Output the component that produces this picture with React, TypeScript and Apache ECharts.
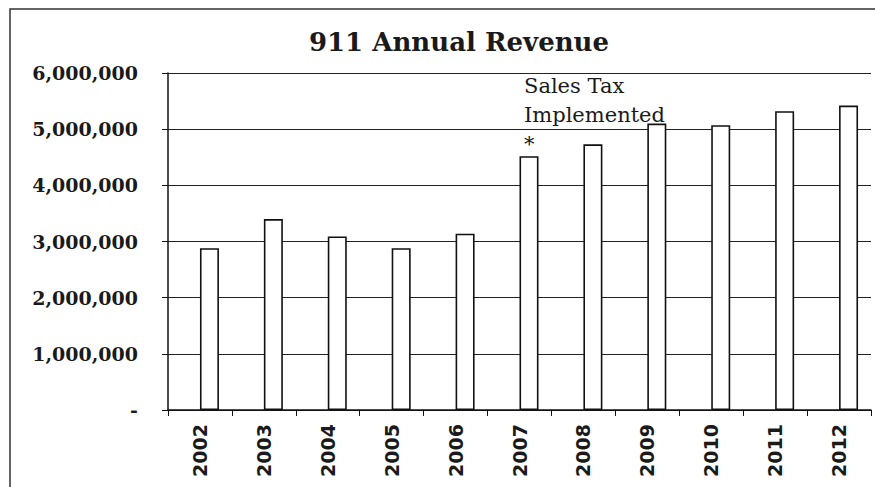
import React, { useEffect, useRef } from "react";
import * as echarts from "echarts";

const years = ["2002", "2003", "2004", "2005", "2006", "2007", "2008", "2009", "2010", "2011", "2012"];
const revenue = [2880000, 3400000, 3090000, 2880000, 3140000, 4520000, 4730000, 5100000, 5070000, 5320000, 5420000];
const spacer = years.map(() => null);
const annotation = "Sales Tax\nImplemented\n*";

export default function App() {
  const ref = useRef<HTMLDivElement>(null);
  useEffect(() => {
    if (!ref.current) return;
    const chart = echarts.init(ref.current, null, { renderer: "svg" });
    chart.setOption({
      animation: false,
      backgroundColor: "#ffffff",
      title: {
        text: "911 Annual Revenue",
        left: 454,
        textAlign: "center",
        top: 24,
        textStyle: { fontFamily: "DejaVu Serif", fontWeight: "bold", fontSize: 26, color: "#1a1a1a" },
      },
      grid: { left: 168, right: 4, top: 73, bottom: 77 },
      xAxis: {
        type: "category",
        data: years,
        axisLine: { lineStyle: { color: "#111", width: 1.5 } },
        axisTick: { show: true, length: 6, lineStyle: { color: "#111" } },
        axisLabel: {
          rotate: 90,
          margin: 14,
          fontFamily: "DejaVu Sans",
          fontWeight: "bold",
          fontSize: 19,
          color: "#1a1a1a",
          interval: 0,
        },
      },
      yAxis: {
        type: "value",
        min: 0,
        max: 6000000,
        interval: 1000000,
        axisLine: { show: true, lineStyle: { color: "#111", width: 1.5 } },
        axisTick: { show: true, length: 6, lineStyle: { color: "#111" } },
        splitLine: { lineStyle: { color: "#222", width: 1.2 } },
        axisLabel: {
          margin: 30,
          fontFamily: "DejaVu Serif",
          fontWeight: "bold",
          fontSize: 19,
          color: "#1a1a1a",
          formatter: (v: number) => (v === 0 ? "-" : v.toLocaleString("en-US")),
        },
      },
      series: [
        { type: "bar", data: spacer, barWidth: 19, barGap: "0%", itemStyle: { color: "transparent" } },
        {
          type: "bar",
          data: revenue,
          barWidth: 19,
          barGap: "0%",
          itemStyle: { color: "#ffffff", borderColor: "#111", borderWidth: 1.6 },
        },
      ],
      graphic: [
        {
          type: "rect",
          shape: { x: 10, y: 9, width: 900, height: 500 },
          style: { fill: "none", stroke: "#333", lineWidth: 1.5 },
          silent: true,
        },
        {
          type: "text",
          x: 524,
          y: 71,
          style: {
            text: annotation,
            fontFamily: "DejaVu Serif",
            fontSize: 21,
            lineHeight: 29,
            fill: "#1a1a1a",
          },
        },
      ],
    });
    return () => chart.dispose();
  }, []);
  return <div ref={ref} style={{ position: "fixed", left: 0, top: 0, width: 875, height: 487 }} />;
}
